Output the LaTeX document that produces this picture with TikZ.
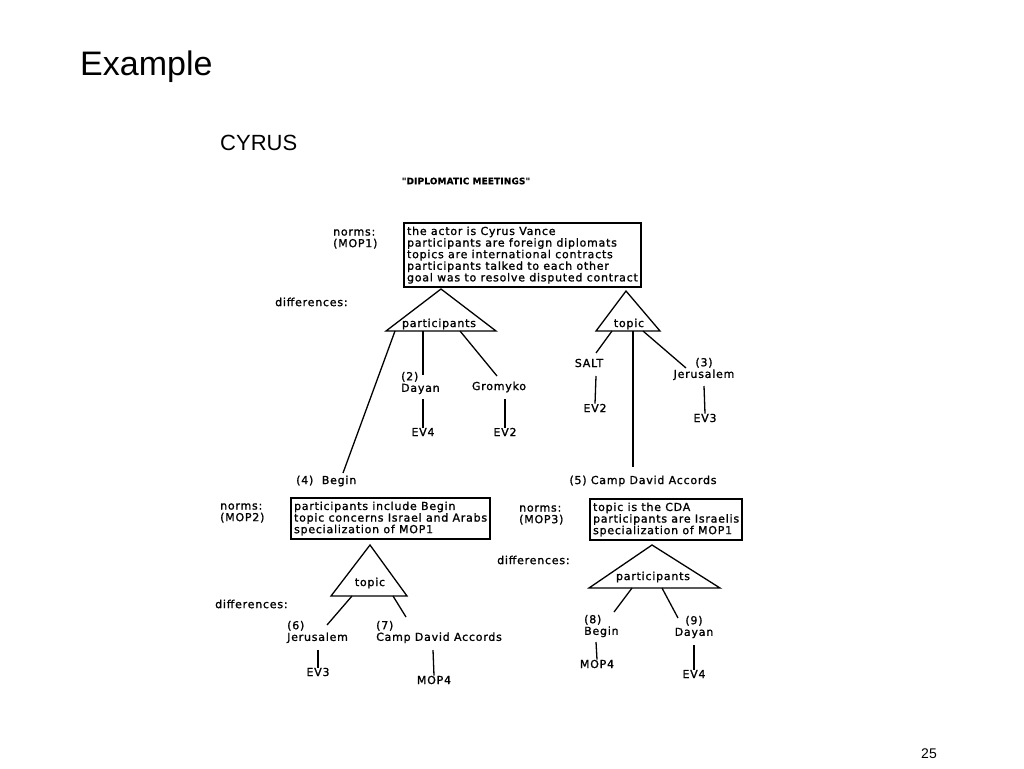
\documentclass[tikz,border=0pt]{standalone}
\usepackage{fontspec}
\setmainfont{Liberation Sans}
\newfontfamily\dia[LetterSpace=7,FakeBold=1.3]{DejaVu Sans}
\newfontfamily\diab[LetterSpace=2,FakeBold=0.6]{DejaVu Sans Bold}
\begin{document}
\begin{tikzpicture}[x=1pt,y=-1pt,
  lbl/.style={font=\dia\fontsize{11}{11.6}\selectfont, inner sep=0pt, align=left},
  lblc/.style={lbl, align=center},
  boxn/.style={lbl, draw, line width=2.2pt, inner xsep=3pt, inner ysep=3.5pt, anchor=north west},
  edge/.style={line width=1.3pt},
  tri/.style={line width=1.3pt, line join=miter}]
\useasboundingbox (0,0) rectangle (1024,768);
% titles
\node[font=\fontsize{34}{40}\selectfont, anchor=west, inner sep=0pt] (title) at (80,67) {Example};
\node[font=\fontsize{14}{16}\selectfont, inner sep=0pt] (pg) at (929,754) {25};
\node[font=\fontsize{22}{24}\selectfont, anchor=west, inner sep=0pt] (cyrus) at (220,143) {CYRUS};
\node[inner sep=0pt, font=\diab\fontsize{8.9}{10}\selectfont] (dm) at (466,181) {"DIPLOMATIC MEETINGS"};

% MOP1
\node[lbl, anchor=west] (norms1) at (333,239) {norms:\\(MOP1)};
\node[boxn] (mop1) at (403,222) {the actor is Cyrus Vance\\participants are foreign diplomats\\topics are international contracts\\participants talked to each other\\goal was to resolve disputed contract};
\node[lbl, anchor=west] (diff1) at (275,302) {differences:};

% participants triangle 1
\coordinate (pa) at (441,289);
\coordinate (pl) at (386,331);
\coordinate (pr) at (496,331);
\draw[tri] (pa) -- (pl) -- (pr) -- cycle;
\node[lbl] (plab) at (439,324) {participants};

% topic triangle 1
\coordinate (ta) at (626,291);
\coordinate (tl) at (596,331);
\coordinate (tr) at (660,331);
\draw[tri] (ta) -- (tl) -- (tr) -- cycle;
\node[lbl] (tlab) at (629,324) {topic};

% children of participants
\node[lbl, anchor=west] (dayan2) at (401,383) {(2)\\Dayan};
\node[lbl] (grom) at (499,387) {Gromyko};
\node[lbl] (ev4a) at (423,432) {EV4};
\node[lbl] (ev2a) at (505,432) {EV2};
\node[lbl, anchor=west] (begin4) at (296,481) {(4)\ \ Begin};
\coordinate (pb1) at (395,331);
\coordinate (pb2) at (423,331);
\coordinate (pb3) at (460,331);
\coordinate (bg) at (343,473);
\coordinate (dy) at (423,375);
\coordinate (gr) at (497,376);
\draw[edge] (pb1) -- (bg);
\draw[edge] (pb2) -- (dy);
\draw[edge] (pb3) -- (gr);
\draw[edge] (423,399) -- (ev4a.north);
\draw[edge] (ev2a.north |- 0,399) -- (ev2a.north);

% children of topic
\node[lbl] (salt) at (589,363) {SALT};
\node[lbl] (ev2b) at (595,408) {EV2};
\node[lblc] (jer3) at (704,369) {(3)\\Jerusalem};
\node[lbl] (ev3a) at (705,418) {EV3};
\node[lbl] (cda5) at (643,481) {(5) Camp David Accords};
\coordinate (tb1) at (612,331);
\coordinate (tb2) at (633,331);
\coordinate (tb3) at (643,331);
\coordinate (sl) at (596,353);
\coordinate (cd) at (633,467);
\coordinate (je) at (686,368);
\draw[edge] (tb1) -- (sl);
\draw[edge] (tb2) -- (cd);
\draw[edge] (tb3) -- (je);
\draw[edge] (596,376) -- (ev2b.north);
\draw[edge] (704,386) -- (ev3a.north);

% MOP2
\node[lbl, anchor=west] (norms2) at (220,513) {norms:\\(MOP2)};
\node[boxn] (mop2) at (290,497) {participants include Begin\\topic concerns Israel and Arabs\\specialization of MOP1};
\coordinate (t2a) at (370,545);
\coordinate (t2l) at (331,596);
\coordinate (t2r) at (407,596);
\draw[tri] (t2a) -- (t2l) -- (t2r) -- cycle;
\node[lbl] (t2lab) at (370,583) {topic};
\node[lbl, anchor=west] (diff2) at (215,604) {differences:};
\node[lbl, anchor=west] (jer6) at (287,632) {(6)\\Jerusalem};
\node[lbl, anchor=west] (cda7) at (376,632) {(7)\\Camp David Accords};
\node[lbl] (ev3b) at (318,672) {EV3};
\node[lbl] (mop4a) at (434,680) {MOP4};
\coordinate (t2b1) at (352,596);
\coordinate (t2b2) at (393,596);
\coordinate (j6) at (327,625);
\coordinate (c7) at (406,617);
\draw[edge] (t2b1) -- (j6);
\draw[edge] (t2b2) -- (c7);
\draw[edge] (318,650) -- (ev3b.north);
\draw[edge] (433,650) -- (mop4a.north);

% MOP3
\node[lbl, anchor=west] (norms3) at (519,515) {norms:\\(MOP3)};
\node[boxn] (mop3) at (589,498) {topic is the CDA\\participants are Israelis\\specialization of MOP1};
\node[lbl, anchor=west] (diff3) at (497,560) {differences:};
\coordinate (p2a) at (652,545);
\coordinate (p2l) at (589,588);
\coordinate (p2r) at (720,588);
\draw[tri] (p2a) -- (p2l) -- (p2r) -- cycle;
\node[lbl] (p2lab) at (653,577) {participants};
\node[lbl, anchor=west] (beg8) at (584,626) {(8)\\Begin};
\node[lblc] (day9) at (694,627) {(9)\\Dayan};
\node[lbl] (mop4b) at (597,664) {MOP4};
\node[lbl] (ev4b) at (694,674) {EV4};
\coordinate (p2b1) at (632,588);
\coordinate (p2b2) at (662,588);
\coordinate (b8) at (614,612);
\coordinate (d9) at (678,618);
\draw[edge] (p2b1) -- (b8);
\draw[edge] (p2b2) -- (d9);
\draw[edge] (596,642) -- (mop4b.north);
\draw[edge] (694,645) -- (ev4b.north);
\end{tikzpicture}
\end{document}
